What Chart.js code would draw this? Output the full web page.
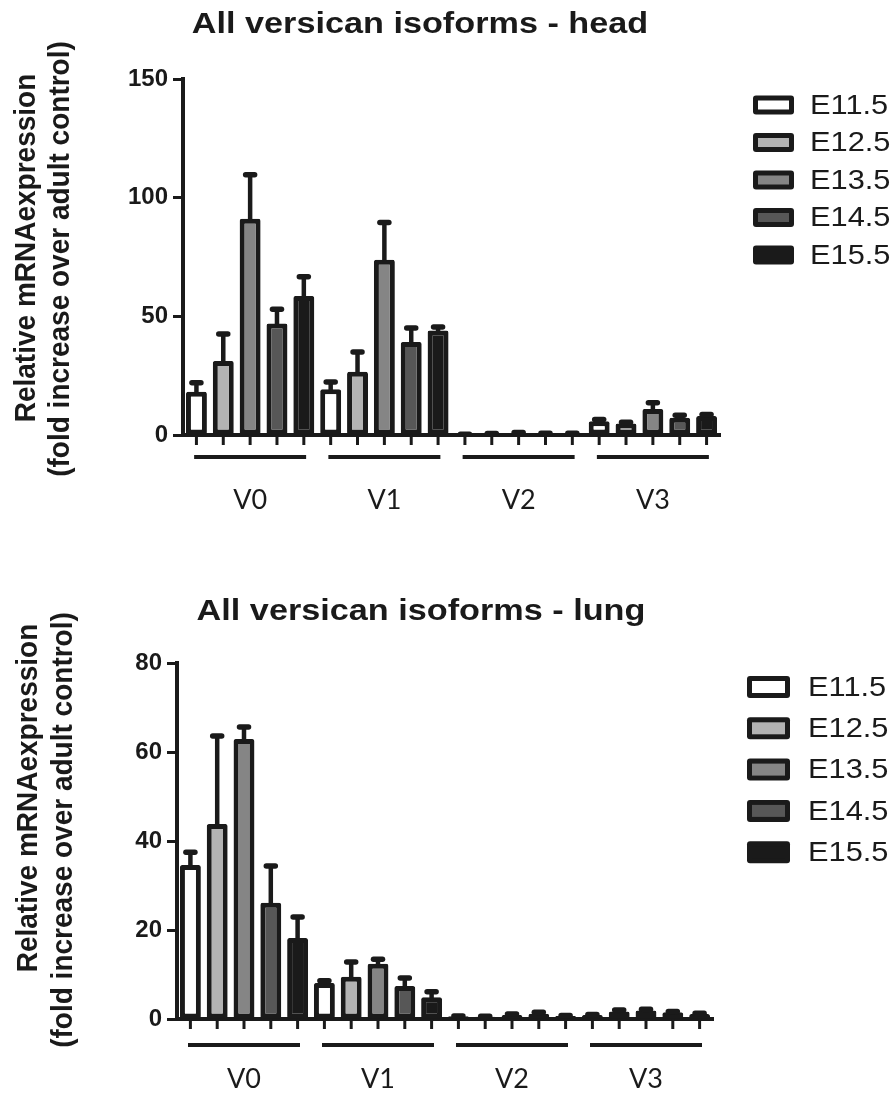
<!DOCTYPE html>
<html>
<head>
<meta charset="utf-8">
<script src="https://cdn.jsdelivr.net/npm/chart.js@4.4.1/dist/chart.umd.min.js"></script>
<style>
  html, body { margin: 0; padding: 0; background: #ffffff; }
  #wrap { position: relative; width: 895px; height: 1097px; }
  canvas { position: absolute; left: 0; }
  #head { top: 0; }
  #lung { top: 548px; }
</style>
</head>
<body>
<div id="wrap">
  <canvas id="head" width="895" height="548"></canvas>
  <canvas id="lung" width="895" height="549"></canvas>
</div>
<script>
// Isoforms on the x axis, embryonic stages as series
const isoforms = ['V0', 'V1', 'V2', 'V3'];
const stages = ['E11.5', 'E12.5', 'E13.5', 'E14.5', 'E15.5'];
const stageFills = ['#ffffff', '#b3b3b3', '#858585', '#575757', '#1a1a1a'];
const ink = '#1a1a1a';

const headTitle = 'All versican isoforms - head';
const lungTitle = 'All versican isoforms - lung';
const yTitleLines = ['Relative mRNAexpression', '(fold increase over adult control)'];

// Head: mean fold change per isoform (V0..V3) and SEM
const headE115 = [18.2, 19.3, 0.2, 5.8];
const headE125 = [31.2, 26.6, 0.4, 4.8];
const headE135 = [91.1, 73.8, 0.8, 11.0];
const headE145 = [47.0, 39.2, 0.5, 7.3];
const headE155 = [58.6, 44.0, 0.5, 8.0];
const headSemE115 = [3.8, 3.0, 0.1, 0.7];
const headSemE125 = [11.4, 8.4, 0.2, 0.6];
const headSemE135 = [18.6, 15.7, 0.3, 2.6];
const headSemE145 = [6.0, 5.9, 0.2, 1.0];
const headSemE155 = [8.1, 1.5, 0.2, 0.6];
const headTicks = [0, 50, 100, 150];

// Lung: mean fold change per isoform (V0..V3) and SEM
const lungE115 = [34.6, 8.1, 0.6, 0.9];
const lungE125 = [43.8, 9.5, 0.5, 1.7];
const lungE135 = [62.9, 12.4, 0.9, 1.9];
const lungE145 = [26.1, 7.4, 1.2, 1.5];
const lungE155 = [18.2, 4.9, 0.7, 1.1];
const lungSemE115 = [2.9, 0.5, 0.1, 0.1];
const lungSemE125 = [19.8, 3.3, 0.1, 0.3];
const lungSemE135 = [2.7, 1.0, 0.2, 0.3];
const lungSemE145 = [8.3, 1.8, 0.3, 0.2];
const lungSemE155 = [4.7, 1.2, 0.1, 0.2];
const lungTicks = [0, 20, 40, 60, 80];

const sansFont = "'Liberation Sans', Arial, sans-serif";

// Draws text widened horizontally by sx around its anchor
function wideText(ctx, text, x, y, sx) {
  ctx.save();
  ctx.translate(x, y);
  ctx.scale(sx, 1);
  ctx.fillText(text, 0, 0);
  ctx.restore();
}

// Error bars, per-bar tick marks, group underlines, titles and legend
const panelPlugin = {
  id: 'panel',
  afterDatasetsDraw(chart, args, o) {
    const ctx = chart.ctx;
    const y = chart.scales.y;
    ctx.save();
    ctx.strokeStyle = ink;
    chart.data.datasets.forEach((ds, d) => {
      const meta = chart.getDatasetMeta(d);
      meta.data.forEach((bar, i) => {
        const top = y.getPixelForValue(ds.data[i] + ds.sem[i]);
        ctx.lineCap = 'butt';
        ctx.lineWidth = 4.5;
        ctx.beginPath();
        ctx.moveTo(bar.x, bar.y + 2);
        ctx.lineTo(bar.x, top);
        ctx.stroke();
        ctx.lineCap = 'round';
        ctx.lineWidth = 5.5;
        ctx.beginPath();
        ctx.moveTo(bar.x - 4.5, top);
        ctx.lineTo(bar.x + 4.5, top);
        ctx.stroke();
      });
    });
    ctx.restore();
  },
  afterDraw(chart, args, o) {
    const ctx = chart.ctx;
    const area = chart.chartArea;
    const x = chart.scales.x;
    ctx.save();
    ctx.strokeStyle = ink;
    ctx.fillStyle = ink;

    // short tick under every bar
    ctx.lineWidth = 3;
    chart.data.datasets.forEach((ds, d) => {
      chart.getDatasetMeta(d).data.forEach(bar => {
        ctx.beginPath();
        ctx.moveTo(bar.x, area.bottom);
        ctx.lineTo(bar.x, area.bottom + 10);
        ctx.stroke();
      });
    });

    // underline grouping the bars of each isoform
    ctx.lineWidth = 4;
    isoforms.forEach((_, i) => {
      const cx = x.getPixelForValue(i);
      ctx.beginPath();
      ctx.moveTo(cx - o.lineHalf, area.bottom + o.lineOffset);
      ctx.lineTo(cx + o.lineHalf, area.bottom + o.lineOffset);
      ctx.stroke();
    });

    // chart title
    ctx.font = 'bold 29px ' + sansFont;
    ctx.textAlign = 'center';
    ctx.textBaseline = 'alphabetic';
    wideText(ctx, o.title, o.titleX, o.titleY, 1.18);

    // rotated y-axis title
    yTitleLines.forEach((line, k) => {
      ctx.save();
      ctx.translate(o.yTitleX[k], o.yTitleY[k]);
      ctx.scale(1.08, 1);
      ctx.rotate(-Math.PI / 2);
      ctx.textAlign = 'center';
      ctx.textBaseline = 'middle';
      ctx.font = 'bold 28px ' + sansFont;
      ctx.fillText(line, 0, 0);
      ctx.restore();
    });

    // legend
    const L = o.legend;
    chart.data.datasets.forEach((ds, k) => {
      const cy = L.y0 + k * L.dy;
      const bx = L.boxX, by = cy - L.boxH / 2;
      ctx.fillStyle = ink;
      ctx.beginPath();
      ctx.roundRect(bx, by, L.boxW, L.boxH, 3);
      ctx.fill();
      ctx.fillStyle = ds.backgroundColor;
      ctx.fillRect(bx + 5, by + 5, L.boxW - 10, L.boxH - 10);
      ctx.fillStyle = ink;
      ctx.font = '28px ' + sansFont;
      ctx.textAlign = 'left';
      ctx.textBaseline = 'middle';
      wideText(ctx, ds.label, L.textX, cy + 1, 1.1);
    });
    ctx.restore();
  }
};

function makeChart(id, cfg) {
  const datasets = stages.map((s, k) => ({
    label: s,
    data: cfg.means[k],
    sem: cfg.sems[k],
    backgroundColor: stageFills[k],
    borderColor: ink,
    borderWidth: 5,
    borderSkipped: false,
    borderRadius: 2,
    categoryPercentage: 1,
    barPercentage: 0.78
  }));
  return new Chart(document.getElementById(id), {
    type: 'bar',
    data: { labels: isoforms, datasets: datasets },
    options: {
      responsive: false,
      animation: false,
      devicePixelRatio: 1,
      layout: { padding: { left: 0, right: cfg.padRight, top: cfg.padTop, bottom: 0 } },
      plugins: {
        legend: { display: false },
        title: { display: false },
        tooltip: { enabled: false },
        panel: cfg.panel
      },
      scales: {
        x: {
          ticks: { font: { family: 'Lato', size: 27, lineHeight: 1 }, color: ink, padding: cfg.xPad },
          grid: { display: true, drawOnChartArea: false, drawTicks: false },
          border: { display: true, width: 4, color: ink },
          afterFit: s => { s.height = cfg.xHeight; }
        },
        y: {
          min: 0,
          max: cfg.ticks[cfg.ticks.length - 1],
          afterBuildTicks: s => { s.ticks = cfg.ticks.map(v => ({ value: v })); },
          ticks: { font: { family: 'Liberation Sans', size: 24, weight: 'bold' }, color: ink, padding: 5 },
          grid: { drawOnChartArea: false, drawTicks: true, tickLength: 10, tickWidth: 3, tickColor: ink },
          border: { display: true, width: 4, color: ink },
          afterFit: s => { s.width = cfg.yWidth; }
        }
      }
    },
    plugins: [panelPlugin]
  });
}

makeChart('head', {
  means: [headE115, headE125, headE135, headE145, headE155],
  sems: [headSemE115, headSemE125, headSemE135, headSemE145, headSemE155],
  ticks: headTicks,
  padRight: 175, padTop: 79, yWidth: 183, xHeight: 113, xPad: 52,
  panel: {
    title: headTitle, titleX: 420, titleY: 33,
    yTitleX: [27, 61], yTitleY: [248, 259],
    lineHalf: 56, lineOffset: 22,
    legend: { boxX: 753, boxW: 41, boxH: 19, textX: 810, y0: 105, dy: 37.5 }
  }
});

makeChart('lung', {
  means: [lungE115, lungE125, lungE135, lungE145, lungE155],
  sems: [lungSemE115, lungSemE125, lungSemE135, lungSemE145, lungSemE155],
  ticks: lungTicks,
  padRight: 182, padTop: 115, yWidth: 177, xHeight: 78, xPad: 47,
  panel: {
    title: lungTitle, titleX: 421, titleY: 72,
    yTitleX: [29, 64], yTitleY: [250, 282],
    lineHalf: 56, lineOffset: 26,
    legend: { boxX: 747, boxW: 43, boxH: 22, textX: 808, y0: 139, dy: 41.3 }
  }
});
</script>
</body>
</html>
